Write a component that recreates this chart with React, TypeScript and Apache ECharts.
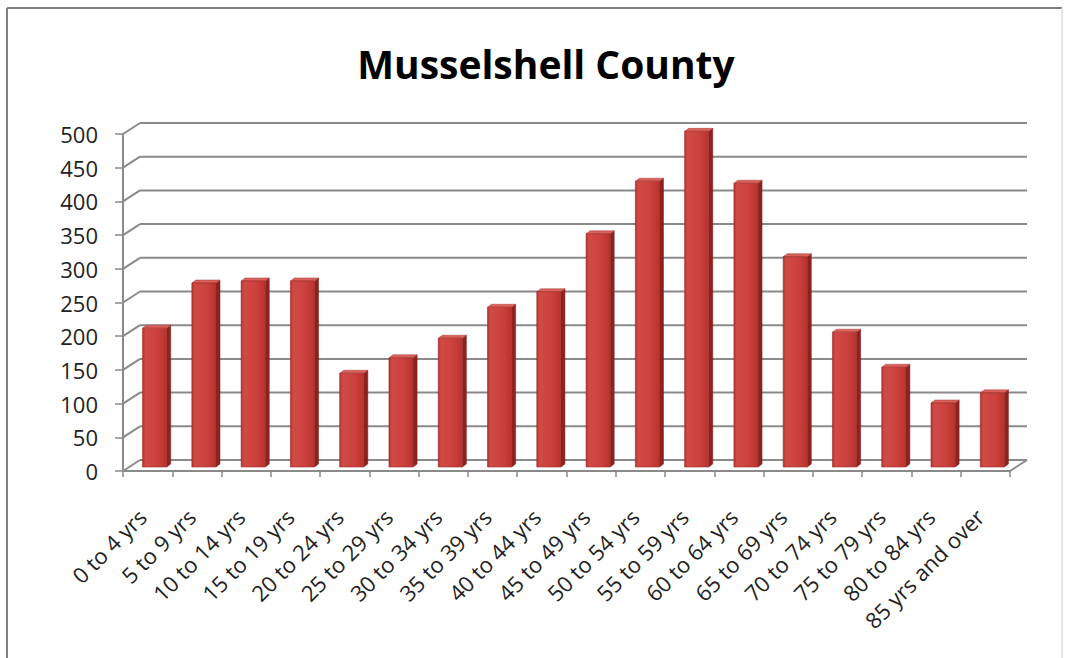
import React, { useEffect, useRef } from "react";
import * as echarts from "echarts";

const categories = [
  "0 to 4 yrs", "5 to 9 yrs", "10 to 14 yrs", "15 to 19 yrs", "20 to 24 yrs",
  "25 to 29 yrs", "30 to 34 yrs", "35 to 39 yrs", "40 to 44 yrs", "45 to 49 yrs",
  "50 to 54 yrs", "55 to 59 yrs", "60 to 64 yrs", "65 to 69 yrs", "70 to 74 yrs",
  "75 to 79 yrs", "80 to 84 yrs", "85 yrs and over",
];
const population = [206, 273, 276, 276, 139, 162, 191, 237, 260, 346, 424, 498, 421, 312, 200, 148, 95, 110];
const yTicks = [0, 50, 100, 150, 200, 250, 300, 350, 400, 450, 500];
const chartTitle = "Musselshell County";

const WALL_DX = 17;
const WALL_DY = -11;
const BAR_DX = 7;
const BAR_DY = -4;
const DEPTH_DX = 4;
const DEPTH_DY = -3;
const GRID_COLOR = "#8a8a8a";

export default function App() {
  const ref = useRef<HTMLDivElement>(null);
  useEffect(() => {
    if (!ref.current) return;
    const chart = echarts.init(ref.current, null, { renderer: "svg" });
    const option: any = {
      animation: false,
      backgroundColor: "#ffffff",
      grid: { left: 123, top: 134, width: 887, height: 337, containLabel: false },
      graphic: [
        {
          type: "line",
          shape: { x1: 7, y1: 8, x2: 1062, y2: 8 },
          style: { stroke: "#808080", lineWidth: 2 },
        },
        {
          type: "line",
          shape: { x1: 7, y1: 8, x2: 7, y2: 658 },
          style: { stroke: "#808080", lineWidth: 2 },
        },
        {
          type: "line",
          shape: { x1: 1062, y1: 8, x2: 1062, y2: 658 },
          style: { stroke: "#dcdcdc", lineWidth: 1.5 },
        },
        {
          type: "text",
          x: 546,
          y: 63,
          style: {
            text: chartTitle,
            fontFamily: "Open Sans",
            fontWeight: "bold",
            fontSize: 39,
            fill: "#000000",
            textAlign: "center",
            textVerticalAlign: "middle",
          },
        },
      ],
      xAxis: {
        type: "category",
        data: categories,
        boundaryGap: true,
        axisLine: { show: true, lineStyle: { color: GRID_COLOR, width: 2 } },
        axisTick: { show: true, length: 6, interval: 0, lineStyle: { color: GRID_COLOR, width: 1.5 } },
        axisLabel: {
          interval: 0,
          rotate: 45,
          margin: 36,
          padding: [0, 8, 0, 0],
          fontFamily: "Open Sans",
          fontSize: 22,
          color: "#222222",
        },
        splitLine: { show: false },
      },
      yAxis: {
        type: "value",
        min: 0,
        max: 500,
        interval: 50,
        axisLine: { show: true, lineStyle: { color: GRID_COLOR, width: 2 } },
        axisTick: { show: true, length: 8, lineStyle: { color: GRID_COLOR, width: 1.5 } },
        axisLabel: {
          margin: 25,
          fontFamily: "Open Sans",
          fontSize: 22,
          color: "#222222",
        },
        splitLine: { show: false },
      },
      series: [
        {
          type: "custom",
          name: "walls",
          z: 1,
          clip: false,
          silent: true,
          data: yTicks.map((v) => [0, v]),
          encode: { x: 0, y: 1 },
          renderItem: (params: any, api: any) => {
            const cs = params.coordSys;
            const v = api.value(1);
            const y = api.coord([0, v])[1];
            const x0 = cs.x;
            const x1 = cs.x + cs.width;
            const st = { stroke: GRID_COLOR, lineWidth: 2 };
            const children: any[] = [
              { type: "line", shape: { x1: x0 + WALL_DX, y1: y + WALL_DY, x2: x1 + WALL_DX, y2: y + WALL_DY }, style: st },
              { type: "line", shape: { x1: x0, y1: y, x2: x0 + WALL_DX, y2: y + WALL_DY }, style: st },
            ];
            if (v === 0) {
              children.push({ type: "line", shape: { x1: x1, y1: y, x2: x1 + WALL_DX, y2: y + WALL_DY }, style: st });
            }
            return { type: "group", children };
          },
        },
        {
          type: "custom",
          name: "Population",
          z: 3,
          clip: false,
          data: population.map((v, i) => [i, v]),
          encode: { x: 0, y: 1 },
          renderItem: (params: any, api: any) => {
            const i = api.value(0);
            const v = api.value(1);
            const base = api.coord([i, 0]);
            const top = api.coord([i, v]);
            const band = api.size([1, 0])[0];
            const w = band * 0.49;
            const xl = base[0] + BAR_DX - w / 2;
            const xr = xl + w;
            const yb = base[1] + BAR_DY;
            const yt = top[1] + BAR_DY;
            return {
              type: "group",
              children: [
                {
                  type: "polygon",
                  shape: {
                    points: [
                      [xr, yb], [xr + DEPTH_DX, yb + DEPTH_DY], [xr + DEPTH_DX, yt + DEPTH_DY], [xr, yt],
                    ],
                  },
                  style: { fill: "#8c2321", stroke: "#7a1d1b", lineWidth: 0.5 },
                },
                {
                  type: "polygon",
                  shape: {
                    points: [
                      [xl, yt], [xr, yt], [xr + DEPTH_DX, yt + DEPTH_DY], [xl + DEPTH_DX, yt + DEPTH_DY],
                    ],
                  },
                  style: { fill: "#d9625c", stroke: "#a83a36", lineWidth: 0.5 },
                },
                {
                  type: "rect",
                  shape: { x: xl, y: yt, width: w, height: yb - yt },
                  style: {
                    fill: new echarts.graphic.LinearGradient(0, 0, 1, 0, [
                      { offset: 0, color: "#b23431" },
                      { offset: 0.12, color: "#d04a46" },
                      { offset: 0.6, color: "#cc413d" },
                      { offset: 1, color: "#b8332f" },
                    ]),
                    stroke: "#9e2b28",
                    lineWidth: 0.6,
                  },
                },
              ],
            };
          },
        },
      ],
    };
    chart.setOption(option);
    return () => chart.dispose();
  }, []);
  return (
    <div
      ref={ref}
      style={{ position: "absolute", left: 0, top: 0, width: 1073, height: 658, background: "#fff" }}
    />
  );
}
